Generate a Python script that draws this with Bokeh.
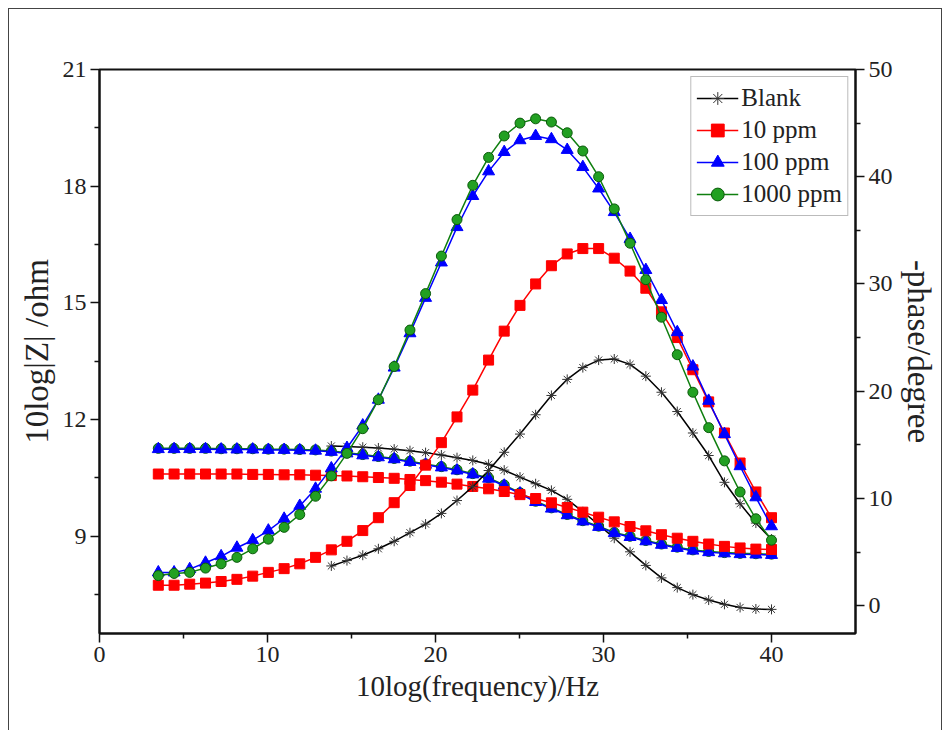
from bokeh.plotting import figure
from bokeh.models import Range1d, LinearAxis, FixedTicker, Legend, LegendItem
from bokeh.embed import file_html
from bokeh.resources import INLINE

# 10log(frequency)/Hz values of the measured points
freq_x = [3.50, 4.44, 5.37, 6.31, 7.24, 8.18, 9.12, 10.05, 10.99, 11.92,
          12.86, 13.80, 14.73, 15.67, 16.60, 17.54, 18.48, 19.41, 20.35, 21.28,
          22.22, 23.16, 24.09, 25.03, 25.96, 26.90, 27.84, 28.77, 29.71, 30.64,
          31.58, 32.52, 33.45, 34.39, 35.32, 36.26, 37.20, 38.13, 39.07, 40.00]
blank_x = freq_x[11:]

# 10log|Z| /ohm
z_blank = [11.32, 11.31, 11.29, 11.27, 11.24, 11.20, 11.15, 11.09, 11.02, 10.95,
           10.85, 10.70, 10.52, 10.35, 10.18, 9.95, 9.63, 9.30, 8.95, 8.60,
           8.25, 7.93, 7.68, 7.50, 7.36, 7.25, 7.17, 7.13, 7.12]
z_10 = [10.60, 10.60, 10.60, 10.60, 10.60, 10.60, 10.59, 10.59, 10.58, 10.58,
        10.57, 10.56, 10.55, 10.53, 10.51, 10.49, 10.46, 10.43, 10.39, 10.34,
        10.28, 10.22, 10.15, 10.07, 9.97, 9.86, 9.74, 9.62, 9.49, 9.37,
        9.25, 9.14, 9.04, 8.95, 8.87, 8.80, 8.74, 8.70, 8.67, 8.66]
z_100 = [11.24, 11.24, 11.24, 11.24, 11.23, 11.23, 11.23, 11.22, 11.22, 11.21,
         11.20, 11.17, 11.13, 11.08, 11.03, 10.98, 10.91, 10.84, 10.77, 10.69,
         10.59, 10.48, 10.30, 10.10, 9.88, 9.71, 9.54, 9.38, 9.24, 9.08,
         8.98, 8.87, 8.78, 8.70, 8.63, 8.59, 8.56, 8.54, 8.53, 8.52]
z_1000 = [11.26, 11.26, 11.26, 11.26, 11.25, 11.25, 11.25, 11.24, 11.24, 11.23,
          11.22, 11.19, 11.15, 11.10, 11.05, 11.00, 10.93, 10.86, 10.79, 10.71,
          10.61, 10.50, 10.32, 10.12, 9.90, 9.73, 9.56, 9.40, 9.26, 9.10,
          9.00, 8.89, 8.80, 8.72, 8.65, 8.61, 8.58, 8.56, 8.55, 8.54]

# -phase/degree
ph_blank = [3.7, 4.2, 4.7, 5.3, 6.0, 6.8, 7.6, 8.6, 9.8, 11.1,
            12.6, 14.3, 16.0, 17.8, 19.6, 21.1, 22.2, 22.9, 23.0, 22.5,
            21.4, 19.9, 18.1, 16.1, 14.0, 11.5, 9.5, 7.7, 6.2]
ph_10 = [1.9, 1.9, 2.0, 2.1, 2.25, 2.45, 2.75, 3.1, 3.45, 3.9,
         4.5, 5.2, 6.0, 7.0, 8.2, 9.6, 11.2, 13.1, 15.2, 17.6,
         20.1, 22.9, 25.6, 28.0, 30.0, 31.7, 32.8, 33.3, 33.3, 32.4,
         31.2, 29.6, 27.4, 25.0, 22.0, 19.0, 16.1, 13.3, 10.6, 8.2]
ph_100 = [3.1, 3.1, 3.4, 4.0, 4.6, 5.4, 6.1, 7.0, 8.1, 9.3,
          10.9, 12.8, 14.7, 16.8, 19.2, 22.2, 25.4, 28.7, 32.0, 35.3,
          38.2, 40.5, 42.3, 43.4, 43.8, 43.5, 42.5, 40.9, 38.9, 36.7,
          34.2, 31.3, 28.5, 25.5, 22.3, 19.1, 16.0, 13.0, 10.1, 7.4]
ph_1000 = [2.8, 3.0, 3.1, 3.5, 3.9, 4.5, 5.3, 6.2, 7.3, 8.5,
           10.2, 12.1, 14.2, 16.5, 19.2, 22.3, 25.7, 29.1, 32.6, 36.0,
           39.2, 41.8, 43.8, 45.0, 45.4, 45.1, 44.1, 42.4, 40.0, 37.0,
           33.8, 30.4, 26.9, 23.4, 19.9, 16.6, 13.5, 10.6, 8.1, 6.1]

series_names = ["Blank", "10 ppm", "100 ppm", "1000 ppm"]
x_ticks = [0, 10, 20, 30, 40]
x_minor = [5, 15, 25, 35]
z_ticks = [9, 12, 15, 18, 21]
z_minor = [7.5, 10.5, 13.5, 16.5, 19.5]
ph_ticks = [0, 10, 20, 30, 40, 50]
ph_minor = [5, 15, 25, 35, 45]

FONT = "Liberation Serif"

p = figure(width=934, height=722, output_backend="svg", toolbar_location=None,
           x_range=Range1d(0, 45), y_range=Range1d(6.5, 21),
           min_border_left=90, min_border_right=88, min_border_top=60,
           min_border_bottom=98)
p.styles = {"margin-left": "8px", "margin-top": "8px",
            "border-left": "1px solid #444", "border-top": "1px solid #444",
            "border-right": "1px solid #444"}
p.extra_y_ranges = {"phase": Range1d(-2.6, 50)}
p.xgrid.visible = False
p.ygrid.visible = False
p.outline_line_color = "#111111"
p.outline_line_width = 2
p.outline_line_alpha = 1
p.background_fill_color = "white"
p.border_fill_color = "white"

right = LinearAxis(y_range_name="phase")
p.add_layout(right, "right")

p.xaxis.ticker = FixedTicker(ticks=x_ticks, minor_ticks=x_minor)
p.yaxis[0].ticker = FixedTicker(ticks=z_ticks, minor_ticks=z_minor)
right.ticker = FixedTicker(ticks=ph_ticks, minor_ticks=ph_minor)

p.xaxis.axis_label = "10log(frequency)/Hz"
p.yaxis[0].axis_label = "10log|Z| /ohm"
right.axis_label = "-phase/degree"

for ax, lsize in ((p.xaxis[0], "29px"), (p.yaxis[0], "33px"), (right, "33px")):
    ax.axis_line_color = "#111111"
    ax.axis_line_width = 2
    ax.major_tick_line_color = "#111111"
    ax.minor_tick_line_color = "#111111"
    ax.major_tick_line_width = 1.5
    ax.minor_tick_line_width = 1.5
    ax.major_tick_out = 9
    ax.major_tick_in = 0
    ax.minor_tick_out = 5
    ax.minor_tick_in = 0
    ax.major_label_text_font = FONT
    ax.major_label_text_font_size = "24px"
    ax.major_label_text_color = "#222222"
    ax.major_label_standoff = 4
    ax.axis_label_text_font = FONT
    ax.axis_label_text_font_size = lsize
    ax.axis_label_text_font_style = "normal"
    ax.axis_label_text_color = "#222222"
    ax.axis_label_standoff = 5

LW = 1.5
SQ, TRI, CIR, AST = 10, 12, 10, 10

# |Z| curves
gz_l = p.line(freq_x, z_1000, line_color="#0f7f0f", line_width=LW)
gz_m = p.scatter(freq_x, z_1000, marker="circle", size=CIR, fill_color="#22a022",
                 line_color="#0b5a0b")
bz_l = p.line(blank_x, z_blank, line_color="black", line_width=LW)
bz_m = p.scatter(blank_x, z_blank, marker="asterisk", size=AST, line_color="#333333",
                 line_width=1)
uz_l = p.line(freq_x, z_100, line_color="#0000ff", line_width=LW)
uz_m = p.scatter(freq_x, z_100, marker="triangle", size=TRI, fill_color="#0000ff",
                 line_color="#0000ff")
rz_l = p.line(freq_x, z_10, line_color="#ff0000", line_width=LW)
rz_m = p.scatter(freq_x, z_10, marker="square", size=SQ, fill_color="#ff0000",
                 line_color="#ff0000")

# phase curves
bp_l = p.line(blank_x, ph_blank, line_color="black", line_width=LW, y_range_name="phase")
bp_m = p.scatter(blank_x, ph_blank, marker="asterisk", size=AST, line_color="#333333",
                 line_width=1, y_range_name="phase")
rp_l = p.line(freq_x, ph_10, line_color="#ff0000", line_width=LW, y_range_name="phase")
rp_m = p.scatter(freq_x, ph_10, marker="square", size=SQ, fill_color="#ff0000",
                 line_color="#ff0000", y_range_name="phase")
up_l = p.line(freq_x, ph_100, line_color="#0000ff", line_width=LW, y_range_name="phase")
up_m = p.scatter(freq_x, ph_100, marker="triangle", size=TRI, fill_color="#0000ff",
                 line_color="#0000ff", y_range_name="phase")
gp_l = p.line(freq_x, ph_1000, line_color="#0f7f0f", line_width=LW, y_range_name="phase")
gp_m = p.scatter(freq_x, ph_1000, marker="circle", size=CIR, fill_color="#22a022",
                 line_color="#0b5a0b", y_range_name="phase")

legend = Legend(items=[
    LegendItem(label=series_names[0], renderers=[bp_l, bp_m]),
    LegendItem(label=series_names[1], renderers=[rp_l, rp_m]),
    LegendItem(label=series_names[2], renderers=[up_l, up_m]),
    LegendItem(label=series_names[3], renderers=[gp_l, gp_m]),
], location="top_right")
legend.margin = 7
legend.padding = 5
legend.spacing = 0
legend.glyph_width = 42
legend.glyph_height = 32
legend.label_height = 32
legend.label_standoff = 3
legend.label_text_font = FONT
legend.label_text_font_size = "25px"
legend.label_text_color = "#222222"
legend.border_line_color = "#777777"
legend.border_line_width = 1.5
legend.background_fill_color = "white"
legend.background_fill_alpha = 1
p.add_layout(legend)

open("out.html", "w").write(file_html(p, INLINE))
